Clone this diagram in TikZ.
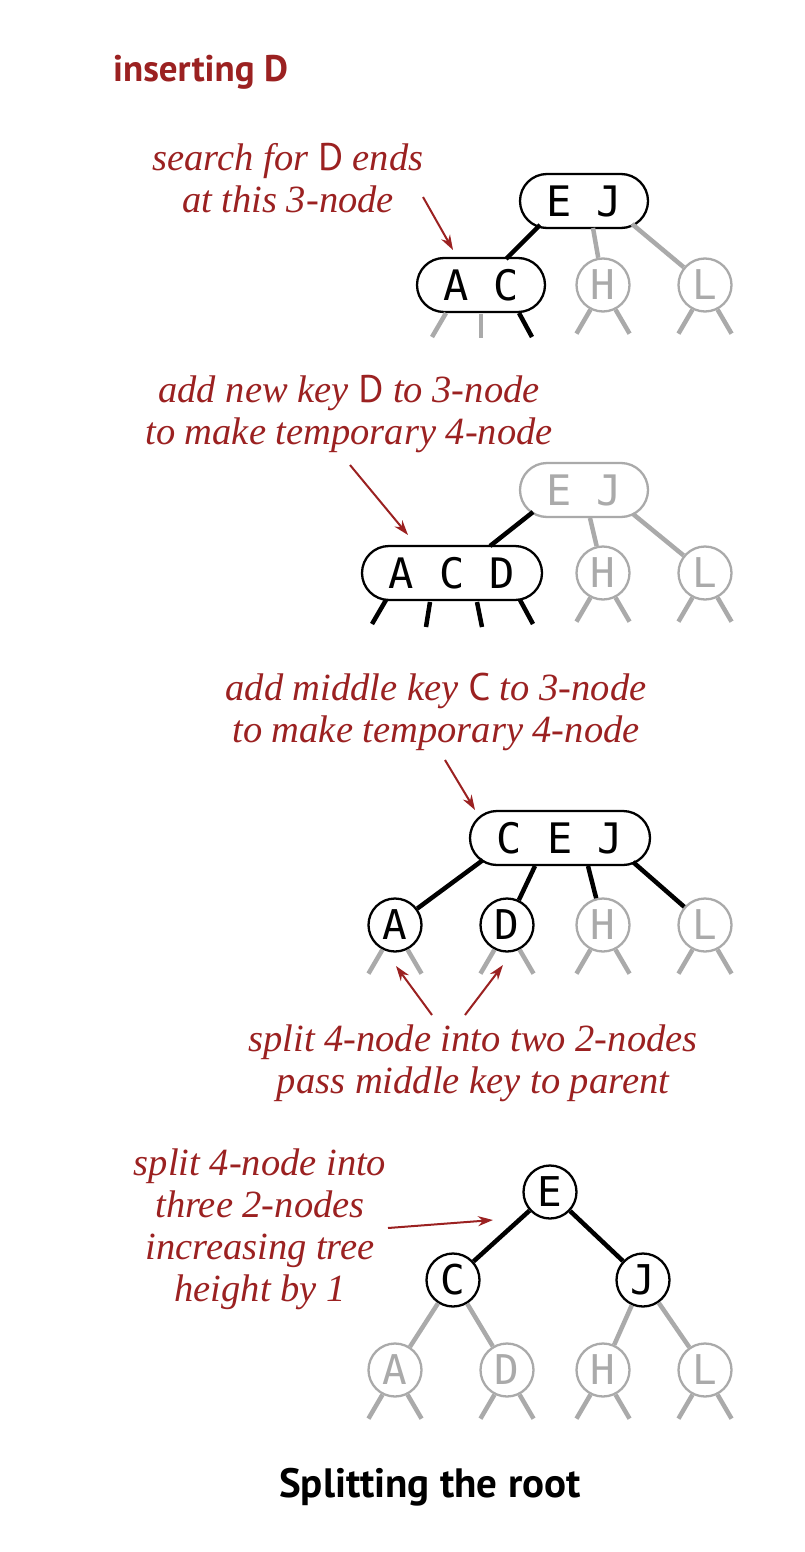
\documentclass[tikz,border=0pt]{standalone}
\usepackage{fontspec}
\setmainfont{Liberation Serif}
\newfontfamily\keyfont{PT Sans}
\newfontfamily\nodefont{DejaVu Sans Mono}
\usetikzlibrary{arrows.meta,shapes.misc}
\definecolor{bookred}{RGB}{155,33,33}
\definecolor{lgray}{RGB}{170,170,170}
\begin{document}
\begin{tikzpicture}[x=1pt,y=-1pt,
  every node/.style={inner sep=0pt},
  cnode/.style={circle,draw=black,line width=2.3pt,minimum size=53pt,fill=white,font=\nodefont\fontsize{41}{41}\selectfont},
  gnode/.style={cnode,draw=lgray,text=lgray},
  pnode/.style={rounded rectangle,draw=black,line width=2.3pt,minimum height=54pt,fill=white,font=\nodefont\fontsize{42}{42}\selectfont},
  gpnode/.style={pnode,draw=lgray,text=lgray},
  bl/.style={line width=4.5pt,black},
  gl/.style={line width=4.5pt,lgray},
  ann/.style={text=bookred,font=\itshape\fontsize{38.5}{42}\selectfont,align=center},
  arr/.style={bookred,line width=2pt,-{Stealth[length=15pt,width=10pt]}}
]
\useasboundingbox (0,0) rectangle (804,1552);
\fill[white] (0,0) rectangle (804,1552);

% heading
\node[anchor=base west,text=bookred,font=\keyfont\bfseries\fontsize{37}{42}\selectfont] (ins) at (113,82) {inserting D};

% ---------- tree 1 ----------
\node[pnode,minimum width=128pt] (EJa) at (584,201) {E J};
\node[pnode,minimum width=128pt] (ACa) at (481,285) {A C};
\node[gnode] (Ha) at (603,285) {H};
\node[gnode] (La) at (705,285) {L};
\draw[bl] ([shift={(-44,24)}]EJa.center) -- ([shift={(25,-26)}]ACa.center);
\draw[gl] ([shift={(9,27)}]EJa.center) -- (Ha);
\draw[gl] ([shift={(48,23)}]EJa.center) -- (La);
\draw[gl] ([shift={(-35,28)}]ACa.center) -- ++(-14,24);
\draw[gl] ([shift={(0,29)}]ACa.center) -- ++(0,24);
\draw[bl] ([shift={(38,28)}]ACa.center) -- ++(13,24);
\foreach \n in {Ha,La}{
  \draw[gl] (\n.243) -- ++(-14,24);
  \draw[gl] (\n.297) -- ++(14,24);
}
\node[ann,anchor=north] (t1) at (288,143) {search for {\upshape\keyfont D} ends\\at this 3-node};
\coordinate (a1s) at (423,197);
\coordinate (a1e) at (453,250);
\draw[arr] (a1s) -- (a1e);

% ---------- tree 2 ----------
\node[gpnode,minimum width=128pt] (EJb) at (584,490) {E J};
\node[pnode,minimum width=180pt] (ACD) at (452,573) {A C D};
\node[gnode] (Hb) at (603,573) {H};
\node[gnode] (Lb) at (705,573) {L};
\draw[bl] ([shift={(38,-27)}]ACD.center) -- ([shift={(-51,22)}]EJb.center);
\draw[gl] ([shift={(6,28)}]EJb.center) -- (Hb);
\draw[gl] ([shift={(49,24)}]EJb.center) -- (Lb);
\draw[bl] ([shift={(-66,27)}]ACD.center) -- ++(-14,24);
\draw[bl] ([shift={(-22,29)}]ACD.center) -- ++(-4,25);
\draw[bl] ([shift={(25,29)}]ACD.center) -- ++(5,25);
\draw[bl] ([shift={(68,27)}]ACD.center) -- ++(13,24);
\foreach \n in {Hb,Lb}{
  \draw[gl] (\n.243) -- ++(-14,24);
  \draw[gl] (\n.297) -- ++(14,24);
}
\node[ann,anchor=north] (t2) at (349,375) {add new key {\upshape\keyfont D} to 3-node\\to make temporary 4-node};
\coordinate (a2s) at (350,465);
\coordinate (a2e) at (408,535);
\draw[arr] (a2s) -- (a2e);

% ---------- tree 3 ----------
\node[pnode,minimum width=180pt] (CEJ) at (560,838) {C E J};
\node[cnode] (Ac) at (395,925) {A};
\node[cnode] (Dc) at (507,925) {D};
\node[gnode] (Hc) at (603,925) {H};
\node[gnode] (Lc) at (705,925) {L};
\draw[bl] ([shift={(-77,22)}]CEJ.center) -- (Ac);
\draw[bl] ([shift={(-25,28)}]CEJ.center) -- (Dc);
\draw[bl] ([shift={(28,28)}]CEJ.center) -- (Hc);
\draw[bl] ([shift={(73,24)}]CEJ.center) -- (Lc);
\foreach \n in {Ac,Dc,Hc,Lc}{
  \draw[gl] (\n.243) -- ++(-14,24);
  \draw[gl] (\n.297) -- ++(14,24);
}
\node[ann,anchor=north] (t3) at (436,673) {add middle key {\upshape\keyfont C} to 3-node\\to make temporary 4-node};
\coordinate (a3s) at (445,760);
\coordinate (a3e) at (475,810);
\draw[arr] (a3s) -- (a3e);
\node[ann,anchor=north] (t4) at (473,1025) {split 4-node into two 2-nodes\\pass middle key to parent};
\coordinate (a4s) at (432,1015);
\coordinate (a4e) at (396,966);
\coordinate (a5s) at (465,1015);
\coordinate (a5e) at (503,965);
\draw[arr] (a4s) -- (a4e);
\draw[arr] (a5s) -- (a5e);

% ---------- tree 4 ----------
\node[cnode] (Ed) at (550,1192) {E};
\node[cnode] (Cd) at (453,1280) {C};
\node[cnode] (Jd) at (643,1280) {J};
\node[gnode] (Ad) at (395,1370) {A};
\node[gnode] (Dd) at (507,1370) {D};
\node[gnode] (Hd) at (603,1370) {H};
\node[gnode] (Ld) at (705,1370) {L};
\draw[bl] (Ed) -- (Cd);
\draw[bl] (Ed) -- (Jd);
\draw[gl] (Cd) -- (Ad);
\draw[gl] (Cd) -- (Dd);
\draw[gl] (Jd) -- (Hd);
\draw[gl] (Jd) -- (Ld);
\foreach \n in {Ad,Dd,Hd,Ld}{
  \draw[gl] (\n.243) -- ++(-14,24);
  \draw[gl] (\n.297) -- ++(14,24);
}
\node[ann,anchor=north] (t5) at (260,1149) {split 4-node into\\three 2-nodes\\increasing tree\\height by 1};
\coordinate (a6s) at (388,1228);
\coordinate (a6e) at (493,1220);
\draw[arr] (a6s) -- (a6e);

% caption
\node[anchor=base,font=\keyfont\bfseries\fontsize{41}{46}\selectfont] (cap) at (430,1497) {Splitting the root};
\end{tikzpicture}
\end{document}
